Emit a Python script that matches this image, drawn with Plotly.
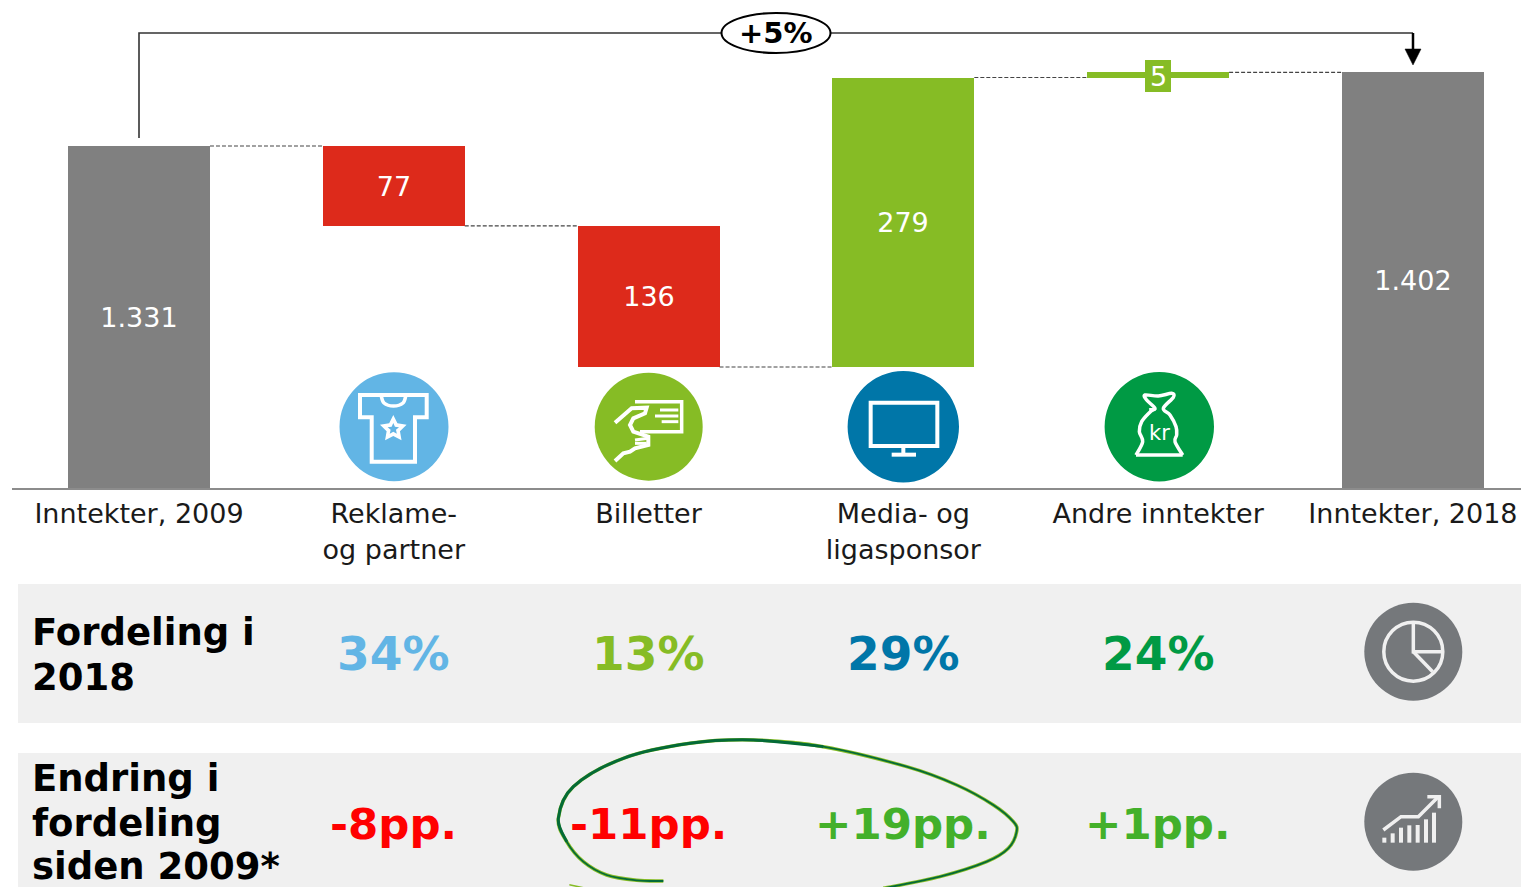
import plotly.graph_objects as go
import math

categories = ["Inntekter, 2009", "Reklame-<br>og partner", "Billetter", "Media- og<br>ligasponsor", "Andre inntekter", "Inntekter, 2018"]
deltas = [1331, -77, -136, 279, 5, 1402]
bar_labels = ["1.331", "77", "136", "279", "", "1.402"]
small_label = "5"
bar_colors = ["#808080", "#DD2A1B", "#DD2A1B", "#86BC25", "#86BC25", "#808080"]
shares = ["34%", "13%", "29%", "24%"]
share_colors = ["#62B5E5", "#86BC25", "#0076A8", "#009A44"]
changes = ["-8pp.", "-11pp.", "+19pp.", "+1pp."]
change_colors = ["#FF0000", "#FF0000", "#43B02A", "#43B02A"]
row1_title = ["Fordeling i", "2018"]
row2_title = ["Endring i", "fordeling", "siden 2009*"]
total_label = "+5%"
axis_floor = 1001.4  # the value axis is truncated at the baseline
axis_ceiling = 1471.7

W, H = 1521, 887
FONT = "DejaVu Sans"
GRAY = "#75787B"
WHITE = "white"
BAND = "#F0F0F0"

# waterfall
bases, tops, levels = [], [], []
cum = 0
for i, d in enumerate(deltas):
    if i == 0 or i == len(deltas) - 1:
        bases.append(axis_floor); tops.append(d); cum = d
    else:
        nxt = cum + d
        bases.append(min(cum, nxt)); tops.append(max(cum, nxt)); cum = nxt
    levels.append(cum)
xs = list(range(len(deltas)))
BW = 0.557

fig = go.Figure(go.Bar(
    x=xs, y=[t - b for t, b in zip(tops, bases)], base=bases, width=BW,
    marker=dict(color=bar_colors, line_width=0),
    text=bar_labels, textposition="inside", insidetextanchor="middle", textangle=0,
    insidetextfont=dict(family=FONT, size=27, color="white"), hoverinfo="skip",
))

def px(x): return x / W
def py(y): return 1 - y / H

shapes, ann = [], []

def line_path(pts, color=WHITE, width=3.5, close=False, fill=None, layer="above"):
    d = "M" + " L".join(f"{px(x):.5f},{py(y):.5f}" for x, y in pts) + (" Z" if close else "")
    shapes.append(dict(type="path", path=d, xref="paper", yref="paper", layer=layer,
                       line=dict(color=color, width=width), fillcolor=fill))

def smooth(pts, color, width):
    d = f"M{px(pts[0][0]):.5f},{py(pts[0][1]):.5f}"
    for i in range(len(pts) - 1):
        p0 = pts[max(i - 1, 0)]; p1 = pts[i]; p2 = pts[i + 1]; p3 = pts[min(i + 2, len(pts) - 1)]
        c1 = (p1[0] + (p2[0] - p0[0]) / 6, p1[1] + (p2[1] - p0[1]) / 6)
        c2 = (p2[0] - (p3[0] - p1[0]) / 6, p2[1] - (p3[1] - p1[1]) / 6)
        d += f" C{px(c1[0]):.5f},{py(c1[1]):.5f} {px(c2[0]):.5f},{py(c2[1]):.5f} {px(p2[0]):.5f},{py(p2[1]):.5f}"
    shapes.append(dict(type="path", path=d, xref="paper", yref="paper", layer="above",
                       line=dict(color=color, width=width)))

def circle(cx, cy, r, fill=None, line=None, width=0):
    shapes.append(dict(type="circle", xref="paper", yref="paper", layer="above",
                       x0=px(cx - r), x1=px(cx + r), y0=py(cy + r), y1=py(cy - r),
                       fillcolor=fill, line=dict(color=line, width=width)))

def rect(x0, y0, x1, y1, fill, layer="below"):
    shapes.append(dict(type="rect", xref="paper", yref="paper", layer=layer,
                       x0=px(x0), x1=px(x1), y0=py(y1), y1=py(y0), fillcolor=fill, line_width=0))

def text(x, y, s, size, color="black", bold=False, xanchor="center", xref="paper", align="center"):
    ann.append(dict(x=x if xref == "x" else px(x), y=py(y), xref=xref, yref="paper", text=f"<b>{s}</b>" if bold else s,
                    showarrow=False, xanchor=xanchor, yanchor="middle", align=align,
                    font=dict(family=FONT, size=size, color=color)))

# bands
rect(18, 584, W, 723, BAND)
rect(18, 753, W, H, BAND)

# connectors between bars (data coordinates)
for i in range(len(deltas) - 1):
    shapes.append(dict(type="line", xref="x", yref="y", layer="below",
                       x0=i + BW / 2, x1=i + 1 - BW / 2, y0=levels[i], y1=levels[i],
                       line=dict(color="#444444", width=1.2, dash="4px,2px")))

# total change bracket
line_path([(139, 138), (139, 33), (1413, 33)], color="#333333", width=1.6)
line_path([(1413, 33), (1413, 50)], color="black", width=2.5)
line_path([(1405, 49), (1421, 49), (1413, 65)], color="black", width=0.5, close=True, fill="black")
shapes.append(dict(type="circle", xref="paper", yref="paper", layer="above",
                   x0=px(721.5), x1=px(830.5), y0=py(53), y1=py(13),
                   fillcolor="white", line=dict(color="black", width=2)))
text(776, 33, total_label, 29, bold=True)

# small value box
rect(1145, 60, 1171, 92, "#86BC25", layer="above")
text(1158, 76, small_label, 27, color="white")

# icon circles
for cx, r, c in zip([394, 648.7, 903.3, 1159.3], [54.5, 54, 55.7, 54.7], share_colors):
    circle(cx, 426.7, r, fill=c)

# t-shirt
line_path([(360, 395), (381.7, 395), (405, 395), (426.7, 395), (426.7, 417.3), (415, 417.3),
           (415, 461.7), (371.7, 461.7), (371.7, 417.3), (360, 417.3)], close=True, width=4)
smooth([(381, 395), (384, 403), (393.5, 406), (403, 403), (406, 395)], WHITE, 3.5)
def star(cx, cy, R, r):
    return [(cx + (R if k % 2 == 0 else r) * math.sin(k * math.pi / 5),
             cy - (R if k % 2 == 0 else r) * math.cos(k * math.pi / 5)) for k in range(10)]
line_path(star(393.3, 429, 14, 7), width=0, close=True, fill=WHITE)
line_path(star(393.3, 429, 6, 2.8), width=0, close=True, fill="#62B5E5")

# ticket / hand
def h(pts): return [(320 + a / 3, 360 + b / 3) for a, b in pts]
line_path(h([(945, 125), (1085, 125), (1085, 215), (960, 215)]), width=3.5)
for seg in [[(1020, 150), (1075, 150)], [(1005, 168), (1075, 168)], [(1025, 185), (1075, 185)]]:
    line_path(h(seg), width=3)
line_path(h([(885, 188), (935, 145), (980, 143), (975, 160), (940, 175), (930, 195), (940, 215),
             (985, 230), (985, 255), (945, 265), (930, 275), (910, 280), (885, 303)]), width=4)
line_path(h([(945, 240), (985, 235)]), width=3)
line_path(h([(945, 250), (980, 250)]), width=3)

# TV
def t(pts): return [(830 + a / 3, 360 + b / 3) for a, b in pts]
line_path(t([(122, 128), (322, 128), (322, 258), (122, 258)]), close=True, width=4)
line_path(t([(220, 260), (220, 285)]), width=4)
line_path(t([(185, 284), (258, 284)]), width=4)

# money bag
smooth(t([(958, 150), (975, 145), (950, 120), (945, 105), (985, 108), (1025, 100), (1030, 112), (1000, 145),
          (1020, 165), (1038, 200), (1040, 225), (1035, 245), (1058, 285)]), WHITE, 3.5)
line_path(t([(1058, 285), (918, 285)]), width=3.5)
smooth(t([(918, 285), (938, 245), (928, 215), (935, 185), (958, 158), (975, 145)]), WHITE, 3.5)
text(1159, 433, "kr", 21, color="white")

# row icons
circle(1413.3, 651.7, 49, fill=GRAY)
circle(1413.3, 651.7, 29.5, line=BAND, width=3.5)
def g(pts): return [(1340 + a / 3, 590 + b / 3) for a, b in pts]
line_path(g([(220, 95), (220, 185), (305, 185)]), color=BAND, width=3.5)
line_path(g([(220, 185), (278, 245)]), color=BAND, width=3.5)
circle(1413.3, 821.7, 49, fill=GRAY)
for xb, yb in zip([133, 158, 183, 208, 233, 258, 282], [743, 730, 713, 706, 705, 688, 668]):
    line_path(g([(xb, yb), (xb, 758)]), color=BAND, width=4)
line_path(g([(130, 720), (183, 680), (235, 680), (295, 620)]), color=BAND, width=3.5)
line_path(g([(262, 620), (298, 620), (298, 655)]), color=BAND, width=3.5)

# row content
for s, y in zip(row1_title, [632, 677]):
    text(30, y, s, 37, bold=True, xanchor="left", align="left")
for s, y in zip(row2_title, [778, 823, 866]):
    text(30, y, s, 37, bold=True, xanchor="left", align="left")
for i in range(4):
    text(i + 1, 653.5, shares[i], 47, color=share_colors[i], bold=True, xref="x")
    text(i + 1, 824, changes[i], 43.5, color=change_colors[i], bold=True, xref="x")

# hand-drawn ring around the two changes
def e(pts): return [(540 + a / 3, 730 + b / 3) for a, b in pts]
ring = e([(370, 453), (290, 451), (200, 435), (130, 395), (80, 335), (55, 265), (100, 170), (250, 85), (450, 40), (640, 30),
          (850, 50), (1100, 110), (1250, 165), (1360, 225), (1420, 275), (1430, 305), (1405, 355), (1340, 395),
          (1200, 440), (1030, 475)])
smooth(ring, "#86BC25", 3.5)
smooth(ring, "#046A38", 1.8)
smooth(e([(80, 335), (55, 265), (100, 170), (250, 85), (450, 40), (640, 30), (850, 50)]), "#046A38", 3)
smooth(e([(88, 464), (130, 473)]), "#86BC25", 1.5)

fig.update_layout(
    width=W, height=H, margin=dict(l=0, r=0, t=0, b=0), autosize=False,
    paper_bgcolor="white", plot_bgcolor="white", showlegend=False, bargap=0,
    shapes=shapes, annotations=ann,
    xaxis=dict(domain=[12 / W, 1], range=[-0.4984, 5.4241], tickmode="array", tickvals=xs, ticktext=categories,
               showgrid=False, zeroline=False, showline=True, linecolor="#8C8C8C", linewidth=2, ticks="",
               tickfont=dict(family=FONT, size=27, color="#1A1A1A"), ticklabelstandoff=1, fixedrange=True),
    yaxis=dict(domain=[(H - 488) / H, 1], range=[axis_floor, axis_ceiling], visible=False, fixedrange=True),
)
fig.write_html("out.html", config=dict(displayModeBar=False),
               post_script="document.body.style.margin='0';document.body.style.overflow='hidden';")
